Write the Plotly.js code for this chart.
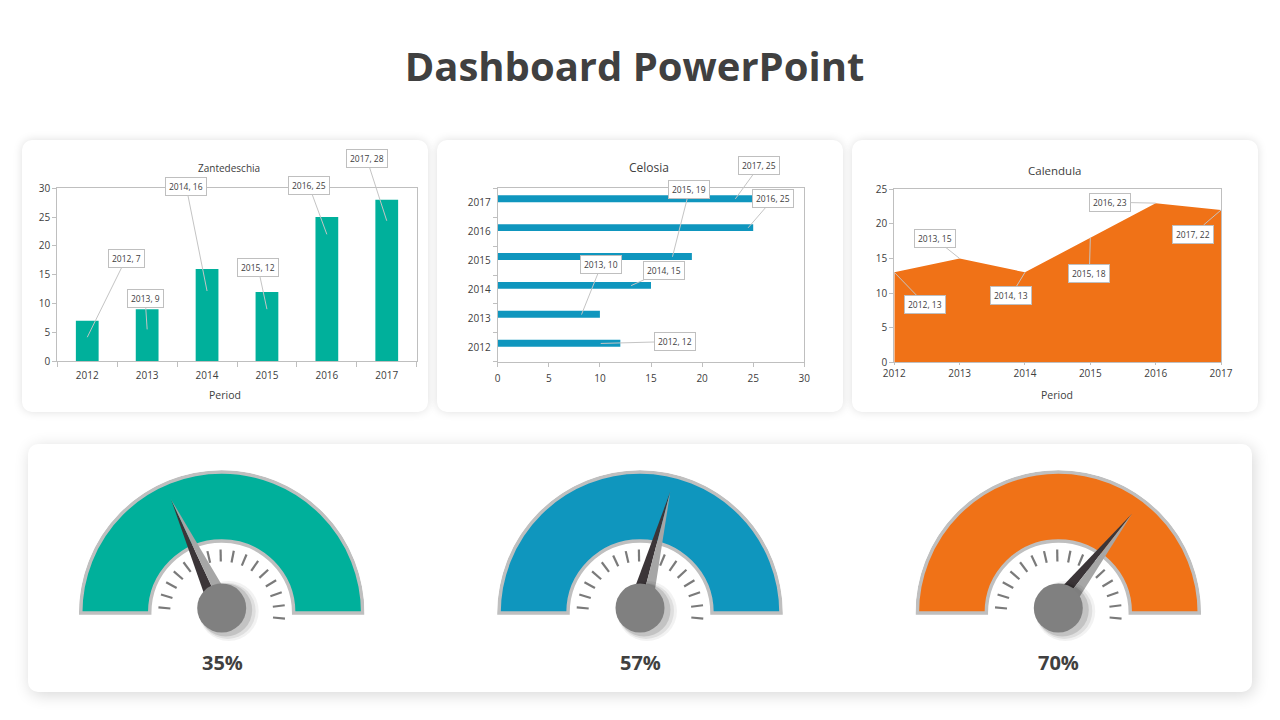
<!DOCTYPE html>
<html>
<head>
<meta charset="utf-8">
<script src="https://cdn.plot.ly/plotly-3.0.1.min.js"></script>
<style>
  html, body { margin: 0; padding: 0; background: #ffffff; }
  #wrap { position: relative; width: 1280px; height: 720px; overflow: hidden; background: #ffffff; }
  .card { position: absolute; background: #ffffff; border-radius: 10px; box-shadow: 0 0 10px rgba(0,0,0,0.13); }
  #plot { position: absolute; left: 0; top: 0; width: 1280px; height: 720px; }
</style>
</head>
<body>
<div id="wrap">
  <div class="card" style="left:22px; top:140px; width:406px; height:272px;"></div>
  <div class="card" style="left:437px; top:140px; width:406px; height:272px;"></div>
  <div class="card" style="left:852px; top:140px; width:406px; height:272px;"></div>
  <div class="card" style="left:28px; top:444px; width:1224px; height:248px; box-shadow: 2px 3px 16px rgba(0,0,0,0.16);"></div>
  <div id="plot"></div>
</div>
<script>
// ---------------- DATA ----------------
const years = ['2012', '2013', '2014', '2015', '2016', '2017'];
const zantedeschia = [7, 9, 16, 12, 25, 28];
const celosia = [12, 10, 15, 19, 25, 25];
const calendula = [13, 15, 13, 18, 23, 22];
const gaugeValues = [35, 57, 70];

const chartTitles = ['Zantedeschia', 'Celosia', 'Calendula'];
const xAxisTitle = 'Period';
const pageTitle = 'Dashboard PowerPoint';

// ---------------- STYLE ----------------
const TEAL = '#00B09B';
const BLUE = '#0F96BE';
const ORANGE = '#F07217';
const gaugeColors = [TEAL, BLUE, ORANGE];
const TXT = '#404040';
const FRAME = '#bfbfbf';
const FONT = '"Open Sans", "Noto Sans", sans-serif';

// callout placement: [ax, ay, tip fraction of value] (pixels / fraction)
const zCallout = [[39, -79, 0.59], [-2, -31, 0.61], [-21, -105, 0.76], [-9, -42, 0.75], [-18, -49, 0.88], [-20, -62, 0.87]];
const cCallout = [[74, -2, 0.84], [20, -50, 0.82], [33, -15, 0.87], [17, -67, 0.90], [25, -29, 0.98], [24, -33, 0.93]];
const kCallout = [[31, 32], [-25, -20], [-14, 23], [-1, 36], [-46, -1], [-28, 24]];

// gauge geometry (pixels)
const gaugeCenters = [221.7, 640, 1058.3];
const gaugeBaseY = 613;
const R_OUT = 143, BAND_BASE = 72, BAND_LEN = 69;
const R_TICK = 64;
const HUB_DY = 5, NEEDLE_LEN = 120, NEEDLE_HALF = 12;

const W = 1280, H = 720;
const dX = (a, b) => [a / W, b / W];
const dY = (top, bottom) => [1 - bottom / H, 1 - top / H];

const tickFont = { family: FONT, size: 10, color: TXT };
const baseAxis = {
  showline: true, linecolor: FRAME, linewidth: 1, mirror: true,
  showgrid: false, zeroline: false, ticks: 'outside', ticklen: 4,
  tickcolor: FRAME, tickfont: tickFont, fixedrange: true
};

const traces = [];
const annotations = [];

// ---------- Chart 1: Zantedeschia (column) ----------
traces.push({
  type: 'bar', x: years, y: zantedeschia, width: 0.38,
  marker: { color: TEAL }, xaxis: 'x', yaxis: 'y', hoverinfo: 'skip'
});
// ---------- Chart 2: Celosia (bar) ----------
traces.push({
  type: 'bar', orientation: 'h', y: years, x: celosia, width: 0.24, offset: 0.02,
  marker: { color: BLUE }, xaxis: 'x2', yaxis: 'y2', hoverinfo: 'skip'
});
// ---------- Chart 3: Calendula (area) ----------
traces.push({
  type: 'scatter', mode: 'lines', x: years.map(Number), y: calendula,
  fill: 'tozeroy', fillcolor: ORANGE, line: { width: 0, color: ORANGE },
  xaxis: 'x3', yaxis: 'y3', hoverinfo: 'skip'
});

function callout(xref, yref, x, y, text, ax, ay, extra) {
  return Object.assign({
    xref: xref, yref: yref, x: x, y: y, text: text,
    showarrow: true, arrowhead: 0, arrowwidth: 1, arrowcolor: '#c4c4c4',
    ax: ax, ay: ay, standoff: 0,
    bgcolor: '#ffffff', bordercolor: FRAME, borderwidth: 1, borderpad: 3,
    font: { family: FONT, size: 8.5, color: TXT }
  }, extra || {});
}

years.forEach((yr, i) => {
  const c = zCallout[i];
  // category axes: position given by category index
  annotations.push(callout('x', 'y', i, zantedeschia[i] * c[2], yr + ', ' + zantedeschia[i], c[0], c[1]));
  const d = cCallout[i];
  annotations.push(callout('x2', 'y2', celosia[i] * d[2], i, yr + ', ' + celosia[i], d[0], d[1], { yshift: 3.8 }));
  const k = kCallout[i];
  annotations.push(callout('x3', 'y3', Number(yr), calendula[i], yr + ', ' + calendula[i], k[0], k[1]));
});

// chart titles and axis titles
const titleSpecs = [[229.3, 168, 10], [649.3, 167.3, 12], [1054.7, 170, 11.5]];
chartTitles.forEach((t, i) => {
  annotations.push({
    xref: 'paper', yref: 'paper', x: titleSpecs[i][0] / W, y: 1 - titleSpecs[i][1] / H,
    xanchor: 'center', yanchor: 'middle', showarrow: false, text: t,
    font: { family: FONT, size: titleSpecs[i][2], color: TXT }
  });
});
[[225, 395], [1057.3, 395]].forEach(p => {
  annotations.push({
    xref: 'paper', yref: 'paper', x: p[0] / W, y: 1 - p[1] / H,
    xanchor: 'center', yanchor: 'middle', showarrow: false, text: xAxisTitle,
    font: { family: FONT, size: 10.5, color: TXT }
  });
});

// ---------- Gauges ----------
const layoutPolar = {};
const tickAngles = [];
for (let a = 0; a <= 180; a += 12) tickAngles.push(a);

function toPolar(x, y) { return [Math.hypot(x, y), Math.atan2(y, x) * 180 / Math.PI]; }

gaugeValues.forEach((v, i) => {
  const cx = gaugeCenters[i];
  const yc = H - gaugeBaseY; // center height from bottom
  // small polar: scale ticks
  const sName = 'polar' + (i === 0 ? '' : (i + 1));
  const sinT = Math.sin(8 * Math.PI / 180);
  layoutPolar[sName] = {
    domain: { x: [(cx - R_TICK) / W, (cx + R_TICK) / W], y: [(yc - sinT * R_TICK) / H, (yc + R_TICK) / H] },
    sector: [-8, 188], bgcolor: 'rgba(0,0,0,0)',
    radialaxis: { visible: false, range: [0, 1] },
    angularaxis: {
      rotation: 175, direction: 'clockwise', thetaunit: 'degrees',
      tickmode: 'array', tickvals: tickAngles, ticks: 'inside', ticklen: 12,
      tickwidth: 2.2, tickcolor: '#7a7a7a', showticklabels: false,
      showline: false, showgrid: false
    }
  };
  traces.push({ type: 'scatterpolar', subplot: sName, r: [0], theta: [0], mode: 'markers',
    marker: { size: 1, color: 'rgba(0,0,0,0)' }, hoverinfo: 'skip' });

  // big polar: band, needle, hub
  const bName = 'polar' + (i + 4);
  const sinB = Math.sin(3 * Math.PI / 180);
  layoutPolar[bName] = {
    domain: { x: [(cx - R_OUT) / W, (cx + R_OUT) / W], y: [(yc - sinB * R_OUT) / H, (yc + R_OUT) / H] },
    sector: [-3, 183], bgcolor: 'rgba(0,0,0,0)',
    radialaxis: { visible: false, range: [0, R_OUT] },
    angularaxis: { showline: false, showgrid: false, ticks: '', showticklabels: false, thetaunit: 'degrees' }
  };
  traces.push({
    type: 'barpolar', subplot: bName, theta: [90], width: [180], base: [BAND_BASE], r: [BAND_LEN],
    marker: { color: gaugeColors[i], line: { color: FRAME, width: 3.5 } }, hoverinfo: 'skip'
  });

  // needle from value
  const phi = (180 - v / 100 * 180 - 2) * Math.PI / 180;
  const dx = Math.cos(phi), dy = Math.sin(phi);
  const nx = -dy, ny = dx;
  const T = [NEEDLE_LEN * dx, HUB_DY + NEEDLE_LEN * dy];
  const Hc = [0, HUB_DY];
  const L = [NEEDLE_HALF * nx, HUB_DY + NEEDLE_HALF * ny];
  const Rr = [-NEEDLE_HALF * nx, HUB_DY - NEEDLE_HALF * ny];
  const poly = (pts, color) => {
    const pp = pts.concat([pts[0]]).map(p => toPolar(p[0], p[1]));
    traces.push({ type: 'scatterpolar', subplot: bName, mode: 'lines', fill: 'toself',
      r: pp.map(p => p[0]), theta: pp.map(p => p[1]), fillcolor: color,
      line: { width: 0, color: color }, hoverinfo: 'skip' });
  };
  poly([T, L, Hc], '#3b3538');
  poly([T, Hc, Rr], '#a6a6a6');

  // hub with soft shadow
  const shadows = [[7, -3, 60, 0.05], [6, -3, 56, 0.08], [4, -2, 53, 0.12]];
  shadows.forEach(s => {
    const p = toPolar(s[0], HUB_DY + s[1]);
    traces.push({ type: 'scatterpolar', subplot: bName, mode: 'markers', r: [p[0]], theta: [p[1]],
      cliponaxis: false, marker: { size: s[2], color: 'rgba(0,0,0,' + s[3] + ')', line: { width: 0 } }, hoverinfo: 'skip' });
  });
  traces.push({ type: 'scatterpolar', subplot: bName, mode: 'markers', r: [HUB_DY], theta: [90],
    cliponaxis: false, marker: { size: 49, color: '#808080', line: { width: 0 } }, hoverinfo: 'skip' });

  annotations.push({
    xref: 'paper', yref: 'paper', x: (cx + 0.6) / W, y: 1 - 662.5 / H,
    xanchor: 'center', yanchor: 'middle', showarrow: false, text: v + '%',
    font: { family: FONT, size: 20, color: TXT, weight: 700 }
  });
});

const layout = Object.assign({
  width: W, height: H,
  margin: { l: 0, r: 0, t: 0, b: 0 },
  paper_bgcolor: 'rgba(0,0,0,0)', plot_bgcolor: 'rgba(0,0,0,0)',
  showlegend: false, barmode: 'overlay',
  title: {
    text: pageTitle, x: 634.5 / W, xanchor: 'center', y: 1 - 67 / H, yanchor: 'middle', yref: 'paper',
    font: { family: FONT, size: 40, color: TXT, weight: 700 }
  },
  xaxis: Object.assign({}, baseAxis, { domain: dX(57.3, 416.7), anchor: 'y', type: 'category',
    range: [-0.5, 5.5], tickson: 'boundaries', ticklen: 5, ticklabelstandoff: 5 }),
  yaxis: Object.assign({}, baseAxis, { domain: dY(188.3, 361), anchor: 'x', range: [0, 30], dtick: 5 }),
  xaxis2: Object.assign({}, baseAxis, { domain: dX(497.7, 804.3), anchor: 'y2', range: [0, 30], dtick: 5,
    ticklabelstandoff: 3 }),
  yaxis2: Object.assign({}, baseAxis, { domain: dY(188.3, 361.7), anchor: 'x2', type: 'category',
    range: [-0.5, 5.5], tickson: 'boundaries', ticklabelstandoff: 4 }),
  xaxis3: Object.assign({}, baseAxis, { domain: dX(894.3, 1221), anchor: 'y3', range: [2012, 2017],
    dtick: 1, tickformat: 'd', ticklen: 2 }),
  yaxis3: Object.assign({}, baseAxis, { domain: dY(189.3, 362.3), anchor: 'x3', range: [0, 25], dtick: 5 }),
  annotations: annotations
}, layoutPolar);

Plotly.newPlot('plot', traces, layout, { staticPlot: true, displayModeBar: false });
</script>
</body>
</html>
